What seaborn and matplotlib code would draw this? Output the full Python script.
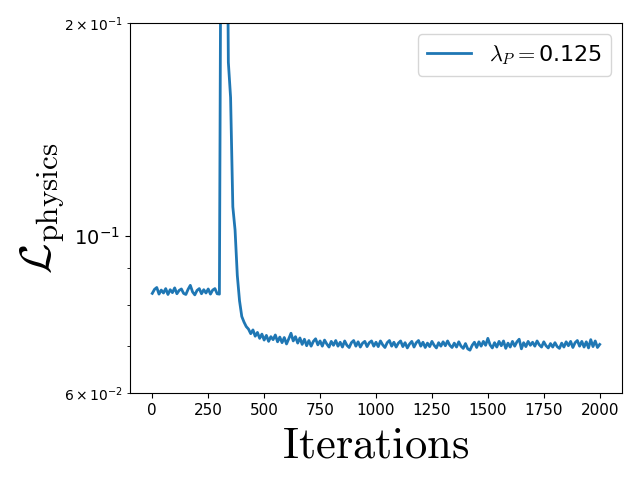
import numpy as np
import pandas as pd
import matplotlib
matplotlib.use("Agg")
import matplotlib.pyplot as plt
import seaborn as sns

plt.rcParams['mathtext.fontset'] = 'cm'

# valeurs (une valeur toutes les 10 itérations)
iterations = np.arange(0, 2001, 10)

loss_plateau = [
    0.0830, 0.0841, 0.0846, 0.0828, 0.0839, 0.0831, 0.0843, 0.0827, 0.0840, 0.0832,
    0.0845, 0.0829, 0.0838, 0.0842, 0.0830, 0.0827, 0.0841, 0.0852, 0.0834, 0.0826,
    0.0838, 0.0843, 0.0829, 0.0840, 0.0831, 0.0842, 0.0828, 0.0839, 0.0843, 0.0829,
]
loss_spike = [
    0.0828, 0.52, 0.61, 0.48, 0.176, 0.157, 0.110, 0.102, 0.088, 0.081,
    0.0770, 0.0756, 0.0745, 0.0739, 0.0728, 0.0737, 0.0722, 0.0731, 0.0717, 0.0727,
]
loss_middle = [
    0.0713, 0.0724, 0.0710, 0.0721, 0.0714, 0.0725, 0.0709, 0.0720, 0.0707, 0.0719,
    0.0704, 0.0716, 0.0729, 0.0711, 0.0721, 0.0706, 0.0718, 0.0703, 0.0715, 0.0700,
    0.0712, 0.0699, 0.0710, 0.0716, 0.0702, 0.0711, 0.0699, 0.0713, 0.0704, 0.0697,
    0.0710, 0.0701, 0.0712, 0.0699, 0.0708, 0.0697, 0.0711, 0.0701, 0.0696, 0.0707,
    0.0712, 0.0699, 0.0709, 0.0697, 0.0706, 0.0710, 0.0698, 0.0707, 0.0711, 0.0699,
]
loss_end = [
    0.0708, 0.0698, 0.0711, 0.0702, 0.0696, 0.0707, 0.0712, 0.0699, 0.0708, 0.0697,
    0.0706, 0.0711, 0.0698, 0.0707, 0.0695, 0.0704, 0.0710, 0.0697, 0.0707, 0.0712,
    0.0699, 0.0708, 0.0696, 0.0706, 0.0698, 0.0710, 0.0701, 0.0695, 0.0707, 0.0699,
    0.0709, 0.0700, 0.0711, 0.0701, 0.0696, 0.0706, 0.0697, 0.0709, 0.0699, 0.0694,
    0.0705, 0.0693, 0.0690, 0.0701, 0.0708, 0.0696, 0.0709, 0.0699, 0.0710, 0.0701,
    0.0717, 0.0702, 0.0695, 0.0707, 0.0697, 0.0710, 0.0700, 0.0711, 0.0694, 0.0706,
    0.0697, 0.0710, 0.0699, 0.0709, 0.0715, 0.0693, 0.0707, 0.0698, 0.0710, 0.0701,
    0.0708, 0.0699, 0.0711, 0.0702, 0.0697, 0.0709, 0.0700, 0.0695, 0.0705, 0.0697,
    0.0707, 0.0698, 0.0694, 0.0706, 0.0697, 0.0709, 0.0700, 0.0710, 0.0696, 0.0707,
    0.0712, 0.0699, 0.0710, 0.0697, 0.0709, 0.0695, 0.0714, 0.0698, 0.0711, 0.0696,
    0.0703,
]

lambda_p = 0.125

df = pd.DataFrame({
    'iteration': iterations,
    'loss': loss_plateau + loss_spike + loss_middle + loss_end,
})

fig, ax = plt.subplots(figsize=(6.4, 4.8), dpi=100)
sns.lineplot(data=df, x='iteration', y='loss', ax=ax, color='#1f77b4',
             linewidth=2.0, label=r'$\lambda_P=$' + str(lambda_p))

ax.set_yscale('log')
ax.set_ylim(0.06, 0.2)
ax.set_xlabel(r'$\mathrm{Iterations}$', fontsize=32)
ax.set_ylabel(r'$\mathcal{L}_{\rm physics}$', fontsize=32, labelpad=-1.5)
ax.tick_params(axis='x', labelsize=11)
ax.tick_params(axis='y', which='major', labelsize=14)
ax.legend(loc='upper right', fontsize=16)

fig.subplots_adjust(left=0.203, right=0.972, top=0.952, bottom=0.181)
fig.savefig('out.png')
